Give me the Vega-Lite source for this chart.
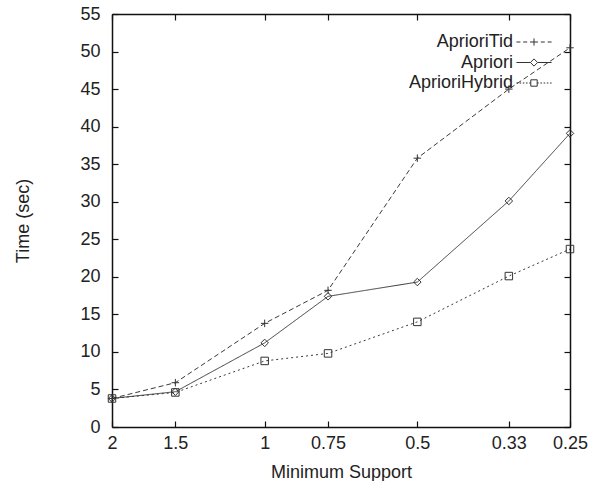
{
  "$schema": "https://vega.github.io/schema/vega-lite/v6.json",
  "width": 458,
  "height": 413,
  "autosize": {"type": "none"},
  "padding": {"left": 112, "top": 14, "right": 20, "bottom": 54},
  "background": "white",
  "config": {
    "view": {"stroke": null},
    "font": "Liberation Sans",
    "axis": {
      "grid": false,
      "domainColor": "#111",
      "domainWidth": 1.5,
      "tickColor": "#111",
      "tickWidth": 1.2,
      "tickSize": -6,
      "labelFlush": false,
      "labelOverlap": false,
      "labelFont": "Liberation Sans",
      "labelFontSize": 18,
      "labelColor": "#222",
      "titleFont": "Liberation Sans",
      "titleFontSize": 18,
      "titleFontWeight": "normal",
      "titleColor": "#222"
    },
    "legend": {
      "labelFont": "Liberation Sans",
      "labelFontSize": 18,
      "labelColor": "#222"
    }
  },
  "data": {
    "values": [
      {"support": 2, "time": 3.8, "algorithm": "AprioriTid"},
      {"support": 1.5, "time": 5.9, "algorithm": "AprioriTid"},
      {"support": 1, "time": 13.8, "algorithm": "AprioriTid"},
      {"support": 0.75, "time": 18.2, "algorithm": "AprioriTid"},
      {"support": 0.5, "time": 35.8, "algorithm": "AprioriTid"},
      {"support": 0.33, "time": 45.0, "algorithm": "AprioriTid"},
      {"support": 0.25, "time": 50.5, "algorithm": "AprioriTid"},
      {"support": 2, "time": 3.8, "algorithm": "Apriori"},
      {"support": 1.5, "time": 4.7, "algorithm": "Apriori"},
      {"support": 1, "time": 11.2, "algorithm": "Apriori"},
      {"support": 0.75, "time": 17.4, "algorithm": "Apriori"},
      {"support": 0.5, "time": 19.3, "algorithm": "Apriori"},
      {"support": 0.33, "time": 30.1, "algorithm": "Apriori"},
      {"support": 0.25, "time": 39.1, "algorithm": "Apriori"},
      {"support": 2, "time": 3.8, "algorithm": "AprioriHybrid"},
      {"support": 1.5, "time": 4.6, "algorithm": "AprioriHybrid"},
      {"support": 1, "time": 8.8, "algorithm": "AprioriHybrid"},
      {"support": 0.75, "time": 9.8, "algorithm": "AprioriHybrid"},
      {"support": 0.5, "time": 14.0, "algorithm": "AprioriHybrid"},
      {"support": 0.33, "time": 20.1, "algorithm": "AprioriHybrid"},
      {"support": 0.25, "time": 23.7, "algorithm": "AprioriHybrid"}
    ]
  },
  "encoding": {
    "x": {
      "field": "support",
      "type": "quantitative",
      "scale": {"type": "log", "domain": [2, 0.25], "nice": false}
    },
    "y": {
      "field": "time",
      "type": "quantitative",
      "scale": {"domain": [0, 55], "nice": false}
    }
  },
  "layer": [
    {
      "mark": {"type": "line", "stroke": "#3a3a3a", "strokeWidth": 1},
      "encoding": {
        "x": {
          "field": "support",
          "type": "quantitative",
          "axis": {
            "orient": "bottom",
            "values": [2, 1.5, 1, 0.75, 0.5, 0.33, 0.25],
            "format": "~g",
            "labelPadding": 13,
            "title": "Minimum Support",
            "titlePadding": 11
          }
        },
        "y": {
          "field": "time",
          "type": "quantitative",
          "axis": {
            "orient": "left",
            "values": [0, 5, 10, 15, 20, 25, 30, 35, 40, 45, 50, 55],
            "labelPadding": 18,
            "title": "Time (sec)",
            "titlePadding": 47
          }
        },
        "strokeDash": {
          "field": "algorithm",
          "type": "nominal",
          "scale": {
            "domain": ["AprioriTid", "Apriori", "AprioriHybrid"],
            "range": [[5, 3], [1, 0], [2, 3]]
          },
          "legend": null
        }
      }
    },
    {
      "mark": {"type": "point", "filled": false, "stroke": "#333", "strokeWidth": 1, "size": 56, "opacity": 1},
      "encoding": {
        "x": {"field": "support", "type": "quantitative", "axis": null},
        "y": {"field": "time", "type": "quantitative", "axis": null},
        "shape": {
          "field": "algorithm",
          "type": "nominal",
          "scale": {
            "domain": ["AprioriTid", "Apriori", "AprioriHybrid"],
            "range": ["M-1,0H1M0,-1V1", "diamond", "square"]
          },
          "legend": null
        }
      }
    },
    {
      "mark": {"type": "point", "filled": false, "stroke": "#333", "strokeWidth": 1, "size": 64, "opacity": 0},
      "encoding": {
        "x": {
          "field": "support",
          "type": "quantitative",
          "axis": {
            "orient": "top",
            "values": [2, 1.5, 1, 0.75, 0.5, 0.33, 0.25],
            "labels": false,
            "title": null
          }
        },
        "y": {
          "field": "time",
          "type": "quantitative",
          "axis": {
            "orient": "right",
            "values": [0, 5, 10, 15, 20, 25, 30, 35, 40, 45, 50, 55],
            "labels": false,
            "title": null
          }
        },
        "shape": {
          "field": "algorithm",
          "type": "nominal",
          "scale": {
            "domain": ["AprioriTid", "Apriori", "AprioriHybrid"],
            "range": [
              "M-4.4,0H-3.4M-2.7,0H-1.7M-1,0H1M1.7,0H2.7M3.4,0H4.4M0,-0.9V0.9",
              "M-4.4,0H-0.9M0.9,0H4.4M-0.9,0L0,-0.9L0.9,0L0,0.9Z",
              "M-4.4,0H-4M-3.6,0H-3.2M-2.8,0H-2.4M-2,0H-1.6M-1.2,0H-0.8M0.8,0H1.2M1.6,0H2M2.4,0H2.8M3.2,0H3.6M4,0H4.4M-0.8,-0.8H0.8V0.8H-0.8Z"
            ]
          },
          "legend": {
            "title": null,
            "orient": "none",
            "legendX": 413,
            "legendY": 19,
            "symbolSize": 64,
            "symbolOpacity": 1,
            "symbolFillColor": "transparent",
            "symbolStrokeColor": "#333",
            "symbolStrokeWidth": 1,
            "labelAlign": "right",
            "labelOffset": -30,
            "rowPadding": 2.5
          }
        }
      }
    }
  ],
  "resolve": {
    "scale": {"shape": "independent"},
    "axis": {"x": "independent", "y": "independent"}
  }
}
